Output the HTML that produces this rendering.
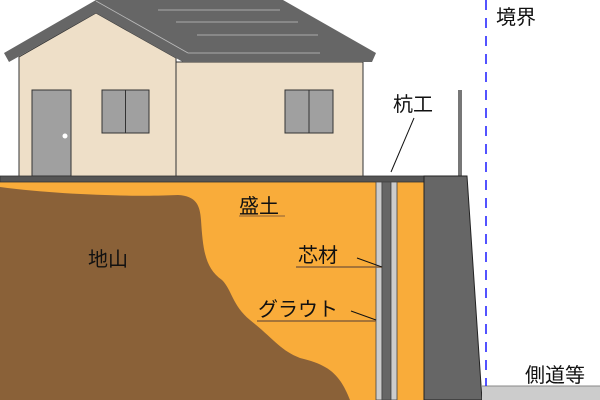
<!DOCTYPE html>
<html><head><meta charset="utf-8"><style>
body{margin:0;background:#fff;}
svg{display:block;}
text{font-family:"Liberation Sans","Noto Sans CJK JP",sans-serif;font-size:20px;fill:#111;}
</style></head><body>
<svg width="600" height="400" viewBox="0 0 600 400" xmlns="http://www.w3.org/2000/svg">
<!-- house walls -->
<polygon points="19,57 96,13 176,58 176,62 363,62 363,177 19,177" fill="#eedfc8" stroke="#333" stroke-width="1"/>
<line x1="176" y1="58" x2="176" y2="177" stroke="#333"/>
<!-- roof -->
<polygon points="96,0 283,0 376,53 372,62 183,62 96,13 9,62 4,53" fill="#666"/>
<line x1="96" y1="1" x2="188" y2="53" stroke="#bbb" stroke-width="0.8"/>
<line x1="158" y1="10" x2="280" y2="10" stroke="#aaa"/>
<line x1="176" y1="22" x2="298" y2="22" stroke="#aaa"/>
<line x1="197" y1="35" x2="318" y2="35" stroke="#aaa"/>
<line x1="188" y1="53" x2="320" y2="53" stroke="#aaa"/>
<!-- door & windows -->
<rect x="32" y="90" width="39" height="86" fill="#a0a0a0" stroke="#333"/>
<circle cx="65" cy="136" r="2.5" fill="#fff"/>
<rect x="102" y="90" width="47" height="43" fill="#a0a0a0" stroke="#333"/>
<line x1="125.5" y1="90" x2="125.5" y2="133" stroke="#333"/>
<rect x="285" y="90" width="48" height="43" fill="#a0a0a0" stroke="#333"/>
<line x1="309" y1="90" x2="309" y2="133" stroke="#333"/>
<!-- post -->
<rect x="458" y="90" width="4" height="88" fill="#777"/>
<!-- fill soil -->
<rect x="0" y="176" width="425" height="224" fill="#f9ac3a"/>
<!-- natural ground -->
<path d="M0,187 C60,195 140,197 178,195 C196,196 200,205 201,220 C203,250 205,268 222,280 C232,290 232,305 250,320 C275,340 280,350 300,358 C330,365 340,375 350,400 L0,400 Z" fill="#8a6138"/>
<!-- top strip -->
<rect x="0" y="176" width="425" height="6" fill="#555" stroke="#333" stroke-width="0.8"/>
<!-- pile -->
<rect x="376" y="182" width="6" height="218" fill="#ccc" stroke="#444" stroke-width="0.8"/>
<rect x="382" y="182" width="9" height="218" fill="#666" stroke="#444" stroke-width="0.8"/>
<rect x="391" y="182" width="6" height="218" fill="#ccc" stroke="#444" stroke-width="0.8"/>
<!-- retaining wall -->
<polygon points="424,176 467,176 482,400 424,400" fill="#666" stroke="#222" stroke-width="1"/>
<!-- road -->
<rect x="482" y="386" width="118" height="14" fill="#ccc"/>
<line x1="482" y1="386" x2="600" y2="386" stroke="#888"/>
<!-- boundary -->
<line x1="486" y1="0" x2="486" y2="386" stroke="#1a1aff" stroke-width="1.5" stroke-dasharray="10,8"/>
<!-- labels -->
<text x="496" y="24">境界</text>
<text x="393" y="111">杭工</text>
<line x1="414" y1="118" x2="391" y2="172" stroke="#111"/>
<text x="239" y="213">盛土</text>
<line x1="239" y1="216" x2="285" y2="216" stroke="#8a6138" stroke-width="1"/>
<text x="88" y="266">地山</text>
<text x="298" y="262">芯材</text>
<line x1="296" y1="267" x2="382" y2="267" stroke="#8a6138" stroke-width="1.5"/>
<line x1="357" y1="258" x2="382" y2="267" stroke="#111"/>
<text x="258" y="316">グラウト</text>
<line x1="257" y1="321" x2="376" y2="321" stroke="#8a6138" stroke-width="1.5"/>
<line x1="351" y1="311" x2="376" y2="320" stroke="#111"/>
<text x="525" y="382">側道等</text>
</svg>
</body></html>
